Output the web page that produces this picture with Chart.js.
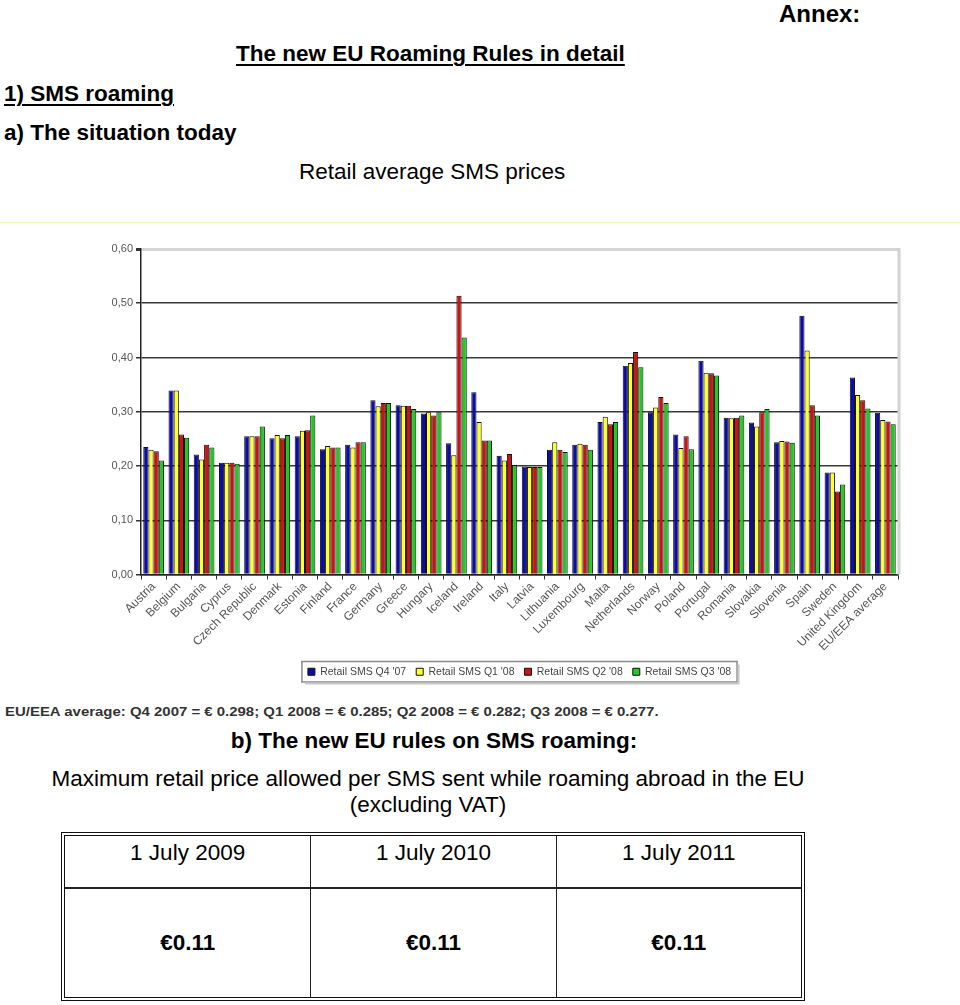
<!DOCTYPE html>
<html>
<head>
<meta charset="utf-8">
<script src="https://cdn.jsdelivr.net/npm/chart.js@4.4.0/dist/chart.umd.min.js"></script>
<style>
body { margin:0; width:960px; height:1005px; background:#fff; position:relative; overflow:hidden; font-family:"Liberation Sans", Arial, sans-serif; color:#000; }
.t { position:absolute; white-space:nowrap; font-size:22.5px; line-height:26px; }
.c { transform:translateX(-50%); }
.b { font-weight:bold; }
.u { text-decoration:underline; text-decoration-thickness:2px; text-underline-offset:3px; }
#rule { position:absolute; left:0; top:222px; width:960px; height:1px; background:#eef3c0; }
#chartBox { position:absolute; left:0; top:235px; width:960px; height:452px; }
#avg { position:absolute; left:5px; top:704px; font-size:13px; font-weight:bold; color:#333; white-space:nowrap; transform:scaleX(1.15); transform-origin:left top; }
table { position:absolute; left:61px; top:832px; width:744px; height:169px; border:4px double #111; border-collapse:separate; border-spacing:0; table-layout:fixed; }
td { text-align:center; font-size:22.5px; padding:0; }
td + td { border-left:1.5px solid #222; }
tr.r1 td { height:47px; vertical-align:top; padding-top:4px; }
tr.r2 td { border-top:2px solid #222; }
</style>
</head>
<body>
<div class="t b" style="left:779px; top:1px; font-size:24px;">Annex:</div>
<div class="t b u" style="left:236px; top:41px;">The new EU Roaming Rules in detail</div>
<div class="t b u" style="left:4px; top:81px;">1) SMS roaming</div>
<div class="t b" style="left:4px; top:120px;">a) The situation today</div>
<div class="t" style="left:299px; top:159px;">Retail average SMS prices</div>
<div id="rule"></div>

<div id="chartBox"><canvas id="sms-chart" width="960" height="452"></canvas></div>

<div id="avg">EU/EEA average: Q4 2007 = € 0.298; Q1 2008 = € 0.285; Q2 2008 = € 0.282; Q3 2008 = € 0.277.</div>

<div class="t b c" style="left:434px; top:728px;">b) The new EU rules on SMS roaming:</div>
<div class="t c" style="left:428px; top:766px;">Maximum retail price allowed per SMS sent while roaming abroad in the EU</div>
<div class="t c" style="left:428px; top:792px;">(excluding VAT)</div>

<table>
  <tr class="r1"><td>1 July 2009</td><td>1 July 2010</td><td>1 July 2011</td></tr>
  <tr class="r2"><td class="b">€0.11</td><td class="b">€0.11</td><td class="b">€0.11</td></tr>
</table>

<script>
// Datos del gráfico
const countries = ['Austria', 'Belgium', 'Bulgaria', 'Cyprus', 'Czech Republic', 'Denmark', 'Estonia', 'Finland',
    'France', 'Germany', 'Greece', 'Hungary', 'Iceland', 'Ireland', 'Italy', 'Latvia', 'Lithuania', 'Luxembourg',
    'Malta', 'Netherlands', 'Norway', 'Poland', 'Portugal', 'Romania', 'Slovakia', 'Slovenia', 'Spain', 'Sweden',
    'United Kingdom', 'EU/EEA average'];

const seriesNames = ["Retail SMS Q4 '07", "Retail SMS Q1 '08", "Retail SMS Q2 '08", "Retail SMS Q3 '08"];

const q4_07 = [0.235, 0.339, 0.221, 0.206, 0.255, 0.251, 0.255, 0.231, 0.239, 0.321, 0.312, 0.297, 0.242, 0.336, 0.219,
    0.199, 0.230, 0.239, 0.281, 0.385, 0.299, 0.258, 0.394, 0.289, 0.280, 0.244, 0.477, 0.188, 0.363, 0.298];
const q1_08 = [0.230, 0.339, 0.212, 0.206, 0.255, 0.257, 0.265, 0.237, 0.234, 0.310, 0.311, 0.299, 0.220, 0.281, 0.210,
    0.198, 0.244, 0.241, 0.291, 0.390, 0.308, 0.233, 0.372, 0.288, 0.273, 0.246, 0.413, 0.188, 0.331, 0.285];
const q2_08 = [0.227, 0.258, 0.239, 0.206, 0.255, 0.251, 0.266, 0.234, 0.244, 0.316, 0.311, 0.293, 0.514, 0.247, 0.222,
    0.198, 0.230, 0.239, 0.277, 0.410, 0.327, 0.255, 0.371, 0.289, 0.299, 0.245, 0.312, 0.153, 0.321, 0.282];
const q3_08 = [0.210, 0.252, 0.234, 0.204, 0.273, 0.257, 0.293, 0.234, 0.244, 0.316, 0.305, 0.299, 0.437, 0.247, 0.202,
    0.198, 0.226, 0.230, 0.281, 0.382, 0.316, 0.231, 0.367, 0.293, 0.305, 0.243, 0.293, 0.166, 0.306, 0.277];

const yTicks = [0, 0.1, 0.2, 0.3, 0.4, 0.5, 0.6];

// Marco derecho del área y recuadro de la leyenda
const framePlugin = {
    id: 'frame',
    afterDraw(chart) {
        const { ctx, chartArea: a, legend } = chart;
        ctx.save();
        ctx.strokeStyle = '#d2d2d2';
        ctx.lineWidth = 3;
        ctx.beginPath();
        ctx.moveTo(a.right + 1, a.top - 1);
        ctx.lineTo(a.right + 1, a.bottom);
        ctx.stroke();

        const boxes = legend.legendHitBoxes;
        if (boxes && boxes.length) {
            const left = Math.min(...boxes.map(b => b.left)) - 6;
            const right = Math.max(...boxes.map(b => b.left + b.width)) + 6;
            const top = Math.min(...boxes.map(b => b.top)) - 5;
            const bottom = Math.max(...boxes.map(b => b.top + b.height)) + 5;
            ctx.strokeStyle = '#8a8a8a';
            ctx.lineWidth = 1.5;
            ctx.strokeRect(left, top, right - left, bottom - top);
            ctx.strokeStyle = '#c8c8c8';
            ctx.lineWidth = 2;
            ctx.beginPath();
            ctx.moveTo(left + 3, bottom + 1.5);
            ctx.lineTo(right + 1.5, bottom + 1.5);
            ctx.lineTo(right + 1.5, top + 3);
            ctx.stroke();
        }
        ctx.restore();
    }
};

const makeSet = (label, data, color) => ({
    label,
    data,
    backgroundColor: color,
    borderColor: '#111',
    borderWidth: 1,
    categoryPercentage: 0.82,
    barPercentage: 1.0
});

const ctx = document.getElementById('sms-chart').getContext('2d');
const smsChart = new Chart(ctx, {
    type: 'bar',
    data: {
        labels: countries,
        datasets: [
            makeSet(seriesNames[0], q4_07, '#0c0ca8'),
            makeSet(seriesNames[1], q1_08, '#ffff2e'),
            makeSet(seriesNames[2], q2_08, '#cc1212'),
            makeSet(seriesNames[3], q3_08, '#22c922')
        ]
    },
    options: {
        responsive: false,
        devicePixelRatio: 1,
        animation: false,
        layout: { padding: { left: 80, right: 62, top: 14, bottom: 0 } },
        plugins: {
            tooltip: { enabled: false },
            legend: {
                position: 'bottom',
                fullSize: false,
                labels: {
                    boxWidth: 7,
                    boxHeight: 7,
                    padding: 10,
                    color: '#444',
                    font: { family: 'Liberation Sans', size: 10.5 }
                }
            }
        },
        scales: {
            x: {
                afterFit: scale => { scale.height = 82; },
                grid: { drawOnChartArea: false, drawTicks: true, tickLength: 5, tickColor: '#333' },
                border: { color: '#222', width: 1.5 },
                ticks: {
                    autoSkip: false,
                    minRotation: 45,
                    maxRotation: 45,
                    padding: 0,
                    color: '#555',
                    font: { family: 'Liberation Sans', size: 12 }
                }
            },
            y: {
                min: yTicks[0],
                max: yTicks[yTicks.length - 1],
                afterFit: scale => { scale.width = 61; },
                afterBuildTicks: scale => { scale.ticks = yTicks.map(v => ({ value: v })); },
                grid: {
                    color: c => c.index === yTicks.length - 1 ? '#d6d6d6' : '#3a3a3a',
                    lineWidth: c => c.index === yTicks.length - 1 ? 3 : 1.5,
                    tickLength: 5,
                    tickColor: '#333'
                },
                border: { color: '#222', width: 1.5 },
                ticks: {
                    padding: 3,
                    color: '#555',
                    font: { family: 'Liberation Sans', size: 11 },
                    callback: v => Number(v).toFixed(2).replace('.', ',')
                }
            }
        }
    },
    plugins: [framePlugin]
});
</script>
</body>
</html>
